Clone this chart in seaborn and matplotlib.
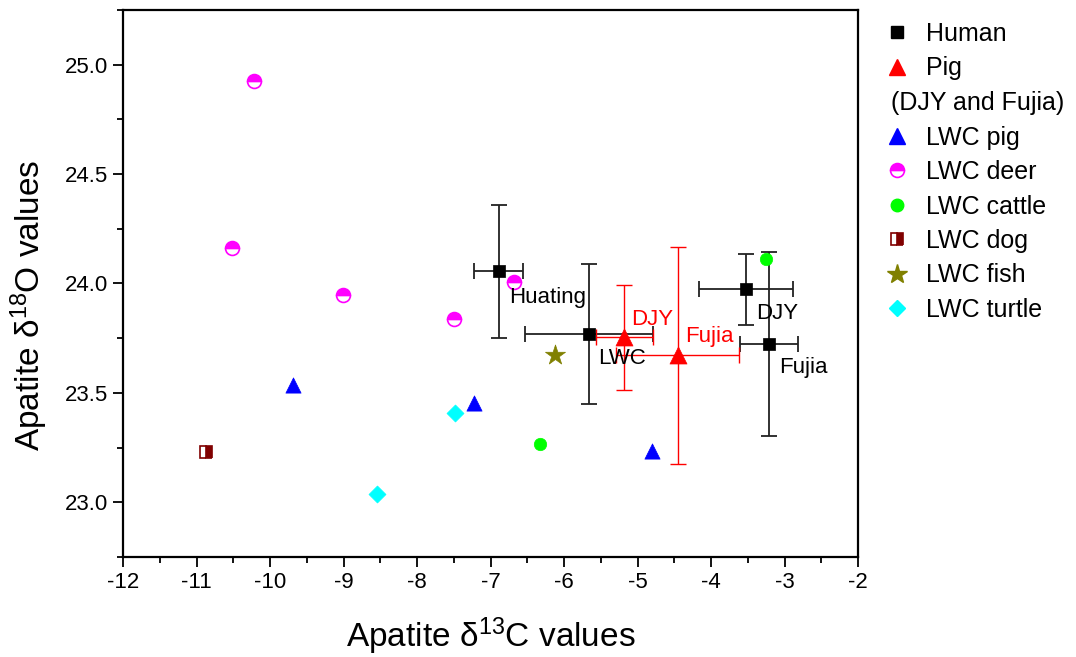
import matplotlib
matplotlib.use("Agg")
import matplotlib.pyplot as plt
from matplotlib.lines import Line2D
from matplotlib.ticker import MultipleLocator, FuncFormatter
import seaborn as sns

# ---- individual LWC faunal samples (d13C, d18O) ----
lwc_pig_c = [-9.69, -7.22, -4.80]
lwc_pig_o = [23.534, 23.455, 23.233]
lwc_deer_c = [-10.22, -10.52, -9.01, -7.49, -6.68]
lwc_deer_o = [24.927, 24.160, 23.948, 23.839, 24.009]
lwc_cattle_c = [-3.25, -6.33]
lwc_cattle_o = [24.11, 23.268]
lwc_dog_c = [-10.87]
lwc_dog_o = [23.23]
lwc_fish_c = [-6.12]
lwc_fish_o = [23.674]
lwc_turtle_c = [-7.48, -8.54]
lwc_turtle_o = [23.41, 23.037]

# ---- site means with standard deviations ----
human_sites = ["Huating", "LWC", "DJY", "Fujia"]
human_c = [-6.89, -5.66, -3.52, -3.21]
human_o = [24.055, 23.767, 23.973, 23.725]
human_c_sd = [0.33, 0.865, 0.64, 0.40]
human_o_sd = [0.306, 0.32, 0.163, 0.42]

pig_sites = ["DJY", "Fujia"]
pig_c = [-5.18, -4.455]
pig_o = [23.755, 23.671]
pig_c_sd = [0.39, 0.84]
pig_o_sd = [0.24, 0.495]

# site label offsets (d13C, d18O) from each mean
human_label_offsets = [(0.15, -0.12), (0.13, -0.11), (0.14, -0.11), (0.14, -0.107)]
pig_label_offsets = [(0.10, 0.08), (0.10, 0.087)]

sns.set_theme(style="ticks")
plt.rcParams["font.family"] = ["Liberation Sans", "DejaVu Sans"]
plt.rcParams["mathtext.fontset"] = "custom"
plt.rcParams["mathtext.rm"] = "Liberation Sans"
plt.rcParams["mathtext.it"] = "Liberation Sans:italic"
plt.rcParams["mathtext.bf"] = "Liberation Sans:bold"
for key in ("text.color", "axes.labelcolor", "xtick.color", "ytick.color", "axes.edgecolor"):
    plt.rcParams[key] = "black"

fig = plt.figure(figsize=(10.76, 6.57), dpi=100)
ax = fig.add_axes([123 / 1076, 1 - 557 / 657, (858 - 123) / 1076, (557 - 10) / 657])

# error bars for the means
ax.errorbar(human_c, human_o, xerr=human_c_sd, yerr=human_o_sd, fmt="none",
            ecolor="#222222", elinewidth=1.3, capsize=6, capthick=1.3, zorder=2)
ax.errorbar(pig_c, pig_o, xerr=pig_c_sd, yerr=pig_o_sd, fmt="none",
            ecolor="#ff0000", elinewidth=1.0, capsize=6, capthick=1.0, zorder=2)

# mean markers
sns.scatterplot(x=human_c, y=human_o, marker="s", color="black", s=64,
                edgecolor="black", linewidth=0.5, ax=ax, zorder=3)
sns.scatterplot(x=pig_c, y=pig_o, marker="^", color="#ff0000", s=150,
                edgecolor="#ff0000", linewidth=0.5, ax=ax, zorder=3)

# individual samples
sns.scatterplot(x=lwc_pig_c, y=lwc_pig_o, marker="^", color="#0000ff", s=120,
                edgecolor="#0000ff", linewidth=0.5, ax=ax, zorder=4)
sns.scatterplot(x=lwc_cattle_c, y=lwc_cattle_o, marker="o", color="#00ff00", s=80,
                edgecolor="#00ff00", linewidth=0.5, ax=ax, zorder=4)
sns.scatterplot(x=lwc_fish_c, y=lwc_fish_o, marker="*", color="#808000", s=230,
                edgecolor="#808000", linewidth=0.5, ax=ax, zorder=4)
sns.scatterplot(x=lwc_turtle_c, y=lwc_turtle_o, marker="D", color="#00ffff", s=75,
                edgecolor="#00ffff", linewidth=0.5, ax=ax, zorder=4)
ax.plot(lwc_deer_c, lwc_deer_o, linestyle="none", marker="o", markersize=10,
        fillstyle="top", markerfacecolor="#ff00ff", markerfacecoloralt="white",
        markeredgecolor="#ff00ff", markeredgewidth=1.2, zorder=4)
ax.plot(lwc_dog_c, lwc_dog_o, linestyle="none", marker="s", markersize=8.5,
        fillstyle="right", markerfacecolor="#800000", markerfacecoloralt="white",
        markeredgecolor="#800000", markeredgewidth=1.2, zorder=4)

# site labels
for name, cx, oy, (dx, dy) in zip(human_sites, human_c, human_o, human_label_offsets):
    ax.text(cx + dx, oy + dy, name, color="black", fontsize=16, ha="left", va="center", zorder=5)
for name, cx, oy, (dx, dy) in zip(pig_sites, pig_c, pig_o, pig_label_offsets):
    ax.text(cx + dx, oy + dy, name, color="#ff0000", fontsize=16, ha="left", va="center", zorder=5)

# axes
ax.set_xlim(-12, -2)
ax.set_ylim(22.75, 25.25)
ax.xaxis.set_major_locator(MultipleLocator(1))
ax.xaxis.set_minor_locator(MultipleLocator(0.5))
ax.yaxis.set_major_locator(MultipleLocator(0.5))
ax.yaxis.set_minor_locator(MultipleLocator(0.25))
ax.xaxis.set_major_formatter(FuncFormatter(lambda v, p: f"{v:.0f}"))
ax.yaxis.set_major_formatter(FuncFormatter(lambda v, p: f"{v:.1f}"))
ax.tick_params(axis="both", which="major", direction="out", length=7, width=1.3,
               labelsize=16, colors="black", pad=4)
ax.tick_params(axis="both", which="minor", direction="out", length=4, width=1.3)
ax.tick_params(top=False, right=False)
for sp in ax.spines.values():
    sp.set_visible(True)
    sp.set_linewidth(1.6)
    sp.set_color("black")
ax.set_xlabel(r"Apatite $\mathrm{\delta}^{13}$C values", fontsize=24, labelpad=16)
ax.set_ylabel(r"Apatite $\mathrm{\delta}^{18}$O values", fontsize=24)
ax.yaxis.set_label_coords(-0.099, 0.46)

# legend
handles = [
    Line2D([], [], linestyle="none", marker="s", markersize=8, color="black"),
    Line2D([], [], linestyle="none", marker="^", markersize=12, color="#ff0000"),
    Line2D([], [], linestyle="none", marker=None),
    Line2D([], [], linestyle="none", marker="^", markersize=11, color="#0000ff"),
    Line2D([], [], linestyle="none", marker="o", markersize=10, fillstyle="top",
           markerfacecolor="#ff00ff", markerfacecoloralt="white",
           markeredgecolor="#ff00ff", markeredgewidth=1.2),
    Line2D([], [], linestyle="none", marker="o", markersize=9, color="#00ff00"),
    Line2D([], [], linestyle="none", marker="s", markersize=8.5, fillstyle="right",
           markerfacecolor="#800000", markerfacecoloralt="white",
           markeredgecolor="#800000", markeredgewidth=1.2),
    Line2D([], [], linestyle="none", marker="*", markersize=15, color="#808000"),
    Line2D([], [], linestyle="none", marker="D", markersize=8.5, color="#00ffff"),
]
labels = ["Human", "Pig", "(DJY and Fujia)", "LWC pig", "LWC deer", "LWC cattle",
          "LWC dog", "LWC fish", "LWC turtle"]
leg = fig.legend(handles, labels, loc="upper left", bbox_to_anchor=(872 / 1076, 1 - 12 / 657),
                 bbox_transform=fig.transFigure, frameon=False, fontsize=18,
                 handlelength=1.2, handletextpad=0.55, labelspacing=0.42, borderaxespad=0)
leg.get_texts()[2].set_position((-35, 0))

fig.savefig("out.png", dpi=100)
